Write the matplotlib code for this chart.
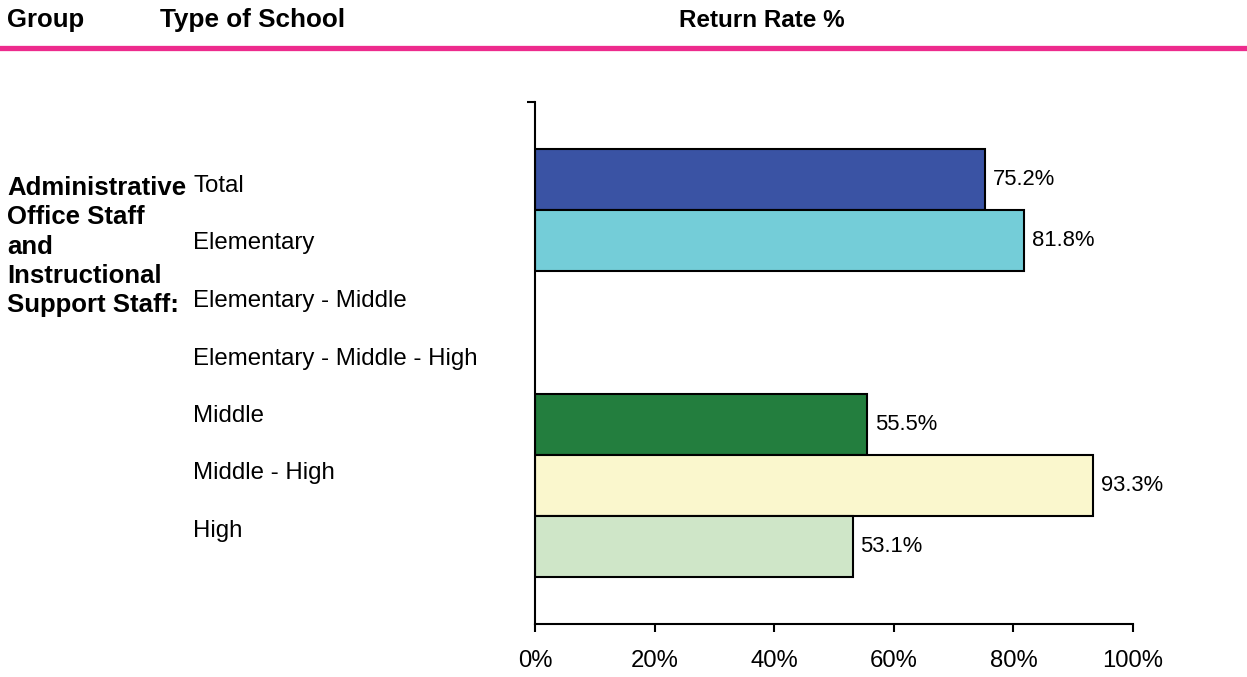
import numpy as np
import matplotlib.pyplot as plt

plt.rcParams['font.family'] = ['Liberation Sans', 'DejaVu Sans']

# donnees
group_label = "Administrative\nOffice Staff\nand\nInstructional\nSupport Staff:"
school_types = ["Total", "Elementary", "Elementary - Middle", "Elementary - Middle - High",
                "Middle", "Middle - High", "High"]
return_rate = [75.2, 81.8, None, None, 55.5, 93.3, 53.1]
bar_colors = ["#3A53A4", "#74CDD8", "#FFFFFF", "#FFFFFF", "#237E3E", "#FAF7CD", "#CFE6C8"]
x_ticks = [0, 20, 40, 60, 80, 100]

fig = plt.figure(figsize=(12.47, 6.77), dpi=100)
W, H = 1247, 677

# entete
fig.text(7 / W, 1 - 27 / H, "Group", fontsize=18.5, fontweight='bold', va='baseline')
fig.text(160 / W, 1 - 27 / H, "Type of School", fontsize=18.8, fontweight='bold', va='baseline')
fig.text(762 / W, 1 - 27 / H, "Return Rate %", fontsize=17.5, fontweight='bold', va='baseline', ha='center')
fig.add_artist(plt.Line2D([0, 1], [1 - 47.5 / H, 1 - 47.5 / H], transform=fig.transFigure,
                          color='#ED2B8D', linewidth=3.8))

# etiquettes a gauche
fig.text(7 / W, 1 - 176 / H, group_label, fontsize=18.5, fontweight='bold', va='top',
         linespacing=1.28)
for i, lab in enumerate(school_types):
    fig.text(193 / W, 1 - (192 + 57.5 * i) / H, lab, fontsize=17.3, va='baseline')

ax = fig.add_axes([535 / W, 1 - 624 / H, (1133 - 535) / W, (624 - 102) / H])
y = np.arange(len(school_types))
for i, v in enumerate(return_rate):
    if v is None:
        continue
    ax.barh(y[i], v, height=1.0, color=bar_colors[i], edgecolor='black', linewidth=1.5)
    ax.text(v + 1.3, y[i], f"{v:.1f}%", va='center', ha='left', fontsize=15.8)

pad = 1.265
ax.set_ylim(len(school_types) - 1 + pad, -pad)
ax.set_xlim(0, 100)
ax.set_xticks(x_ticks)
ax.set_xticklabels([f"{t}%" for t in x_ticks], fontsize=17.2)
ax.set_yticks([-pad])
ax.set_yticklabels([])
ax.tick_params(axis='x', direction='out', length=6, width=1.5, pad=13)
ax.tick_params(axis='y', direction='out', length=6, width=1.5)
for s in ['top', 'right']:
    ax.spines[s].set_visible(False)
for s in ['left', 'bottom']:
    ax.spines[s].set_linewidth(1.5)
ax.set_facecolor('none')

fig.savefig("out.png", dpi=100)
